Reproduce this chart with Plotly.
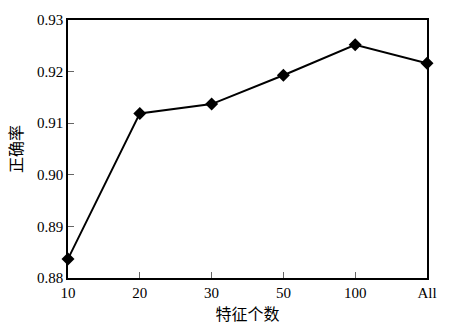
import plotly.graph_objects as go

categories = ["10", "20", "30", "50", "100", "All"]
accuracy = [0.8837, 0.9119, 0.9137, 0.9193, 0.9252, 0.9216]
y_ticks = [0.88, 0.89, 0.90, 0.91, 0.92, 0.93]
y_ticklabels = ["0.88", "0.89", "0.90", "0.91", "0.92", "0.93"]

x_pos = list(range(len(categories)))

fig = go.Figure()
fig.add_trace(go.Scatter(
    x=x_pos, y=accuracy, mode="lines+markers",
    line=dict(color="black", width=2),
    marker=dict(symbol="diamond", size=10, color="black"),
    cliponaxis=False, showlegend=False,
))

serif = "Liberation Serif, Times New Roman, serif"
cjk = "Noto Sans CJK SC"

fig.update_layout(
    width=465, height=328,
    margin=dict(l=68, r=38, t=17, b=50),
    paper_bgcolor="white", plot_bgcolor="white",
    font=dict(family=serif, size=15, color="black"),
)
fig.update_xaxes(
    range=[0, len(categories) - 1],
    tickvals=x_pos, ticktext=categories,
    ticks="inside", ticklen=6, tickcolor="#666", tickwidth=1,
    showline=True, linecolor="black", linewidth=1.5, mirror=True,
    showgrid=False, zeroline=False,
    tickfont=dict(family=serif, size=15),
    title=dict(text="特征个数", font=dict(family=cjk, size=16), standoff=2),
)
fig.update_yaxes(
    range=[0.88, 0.93],
    tickvals=y_ticks, ticktext=y_ticklabels,
    ticks="inside", ticklen=6, tickcolor="#666", tickwidth=1,
    showline=True, linecolor="black", linewidth=1.5, mirror=True,
    showgrid=False, zeroline=False,
    tickfont=dict(family=serif, size=15),
    title=dict(text="正确率", font=dict(family=cjk, size=16), standoff=10),
)

fig.write_html(
    "out.html",
    config={"displayModeBar": False},
    post_script="document.body.style.margin='0px';",
)
